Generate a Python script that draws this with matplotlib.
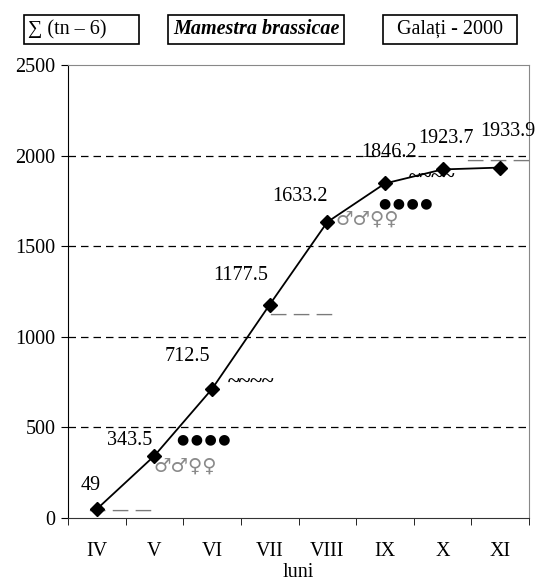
import matplotlib
matplotlib.use("Agg")
import matplotlib.pyplot as plt
from matplotlib.patches import Rectangle

months = ["IV", "V", "VI", "VII", "VIII", "IX", "X", "XI"]
values = [49, 343.5, 712.5, 1177.5, 1633.2, 1846.2, 1923.7, 1933.9]
value_labels = ["49", "343.5", "712.5", "1177.5", "1633.2", "1846.2", "1923.7", "1933.9"]
yticks = [0, 500, 1000, 1500, 2000, 2500]

plt.rcParams['font.family'] = ['Liberation Serif', 'DejaVu Serif']

fig = plt.figure(figsize=(5.52, 5.81), dpi=100)
ax = fig.add_axes([68/552, 1-518/581, 461/552, 453/581])

x = list(range(len(months)))
ax.plot(x, values, color='black', lw=1.3, marker='D', ms=7, mfc='black', mec='black', zorder=5)

ax.set_xlim(-0.5, len(months) - 0.5)
ax.set_ylim(0, 2500)
ax.set_yticks(yticks)
ax.set_yticklabels([str(v) for v in yticks], fontsize=14.5)
ax.set_xticks(x)
ax.set_xticklabels(months, fontsize=14.5)
ax.tick_params(axis='x', length=0, pad=17)
ax.set_xticks([i - 0.5 for i in range(len(months) + 1)], minor=True)
ax.tick_params(axis='x', which='minor', length=5, direction='out', color='black')
ax.tick_params(axis='y', length=5, direction='out', pad=4)
for v in yticks[1:-1]:
    ax.axhline(v, color='black', lw=0.9, ls=(0, (6, 4)), zorder=1)
ax.spines['top'].set_color('#888888')
ax.spines['right'].set_color('#888888')
ax.spines['left'].set_color('black')
ax.spines['bottom'].set_color('#333333')
ax.set_xlabel("luni", fontsize=14.5, labelpad=2)

# value labels
label_pos = [(-0.1, 182), (0.57, 425), (1.57, 889), (2.49, 1341),
             (3.52, 1777), (5.07, 2015), (6.06, 2092), (7.14, 2131)]
for (lx, ly), t in zip(label_pos, value_labels):
    ax.text(lx, ly, t, fontsize=14.5, ha='center', va='center', zorder=6, clip_on=False)

# symbol annotations
dash_pos = [(0.42, 44), (3.56, 1126), (6.97, 1976)]
for dx, dy in dash_pos:
    ax.text(dx, dy, "\u2014 \u2014 \u2014", fontsize=12.5, color='#7a7a7a', ha='center',
            va='center', clip_on=False, family=['DejaVu Sans'])
tilde_pos = [(2.68, 745), (5.82, 1877)]
for tx, ty in tilde_pos:
    ax.text(tx, ty, "~~~~", fontsize=16, color='black', ha='center', va='center', fontweight='bold')
dot_pos = [(1.86, 436), (5.37, 1739)]
for px, py in dot_pos:
    ax.text(px, py, "\u25cf\u200a\u25cf\u200a\u25cf\u200a\u25cf", fontsize=10.2, color='black',
            ha='center', va='center', family=['DejaVu Sans'])
sym_pos = [(1.53, 285), (4.69, 1650)]
for sx, sy in sym_pos:
    ax.text(sx, sy, "♂♂♀♀", fontsize=14, color='#8a8a8a', ha='center', va='center',
            family=['DejaVu Sans'])

# title boxes
boxes = [(24, 139, "∑ (tn – 6)", 'normal', 'normal', 'left'),
         (168, 344, "Mamestra brassicae", 'bold', 'italic', 'center'),
         (383, 517, "Galați - 2000", 'normal', 'normal', 'center')]
W, H = 552, 581
for x0, x1, txt, fw, fs, ha in boxes:
    fig.patches.append(Rectangle((x0/W, 1-44/H), (x1-x0)/W, 29/H, transform=fig.transFigure,
                                 fill=False, edgecolor='black', lw=1.2))
    tx = (x0 + 4)/W if ha == 'left' else (x0 + x1)/2/W
    fig.text(tx, 1-29.5/H, txt, fontsize=14.5, fontweight=fw, fontstyle=fs, ha=ha, va='center')

fig.savefig("out.png", dpi=100)
